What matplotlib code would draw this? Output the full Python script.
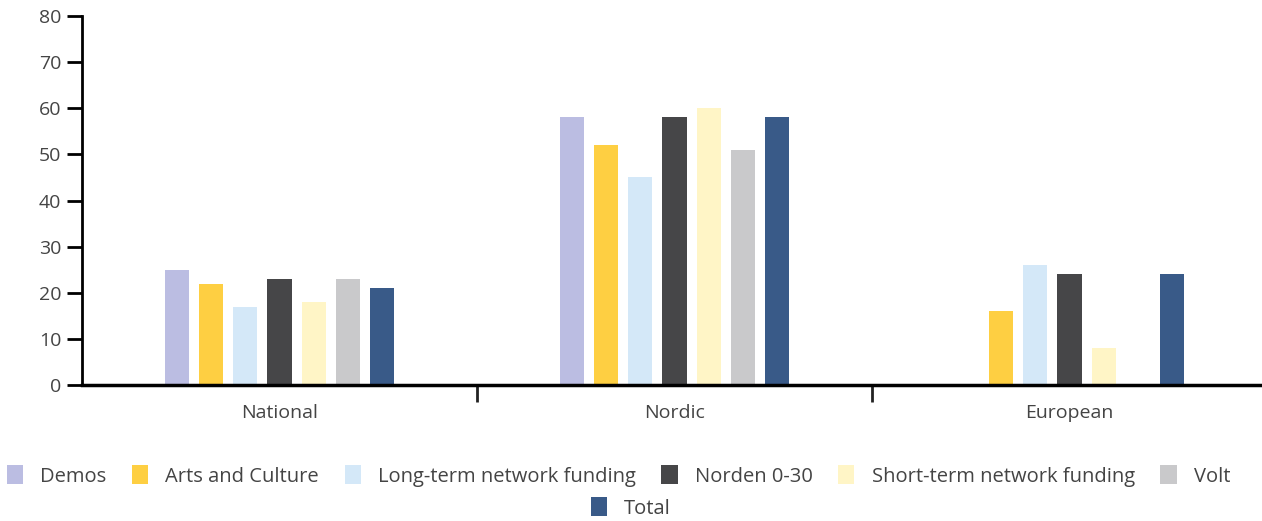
import numpy as np
import matplotlib
matplotlib.use("Agg")
import matplotlib.pyplot as plt
from matplotlib.patches import Patch

plt.rcParams['font.family'] = ['Open Sans', 'DejaVu Sans']

regions = ['National', 'Nordic', 'European']
programmes = ['Demos', 'Arts and Culture', 'Long-term network funding',
              'Norden 0-30', 'Short-term network funding', 'Volt', 'Total']
colors = ['#BBBDE2', '#FECF42', '#D4E8F8', '#464648', '#FFF5C6', '#C9C9CB', '#395A88']

demos = [25, 58, 0]
arts = [22, 52, 16]
longterm = [17, 45, 26]
norden = [23, 58, 24]
shortterm = [18, 60, 8]
volt = [23, 51, 0]
total = [21, 58, 24]
series = [demos, arts, longterm, norden, shortterm, volt, total]

txt = '#444444'

fig = plt.figure(figsize=(12.62, 5.21), dpi=100)
ax = fig.add_axes([82/1262, 1 - 385/521, 1 - 82/1262 + 0.004, (385 - 16)/521])

x = np.arange(len(regions))
step = 0.0865
width = 0.061
for i, (vals, c) in enumerate(zip(series, colors)):
    offs = (i - 3) * step
    vals = np.array(vals, dtype=float)
    mask = vals > 0
    ax.bar(x[mask] + offs, vals[mask], width=width, color=c, zorder=2)

ax.set_xlim(-0.5, 2.5)
ax.set_ylim(0, 80)
ax.set_yticks(range(0, 81, 10))
ax.tick_params(axis='y', length=11, width=2, colors='black', labelcolor=txt,
               labelsize=14, pad=4)

# boundaries between groups as ticks, labels on minor ticks at centres
ax.set_xticks([0.5, 1.5])
ax.set_xticklabels([])
ax.tick_params(axis='x', which='major', length=12, width=2, color='#222222', direction='out')
ax.set_xticks(x, minor=True)
ax.set_xticklabels(regions, minor=True)
ax.tick_params(axis='x', which='minor', length=0, labelsize=14, labelcolor=txt, pad=14)

for s in ['top', 'right']:
    ax.spines[s].set_visible(False)
ax.spines['left'].set_linewidth(2)
ax.spines['bottom'].set_linewidth(2.5)

handles = [Patch(facecolor=c, label=p) for p, c in zip(programmes, colors)]
leg_kw = dict(frameon=False, fontsize=14.5, handlelength=0.8, handleheight=1.05,
              handletextpad=0.85, columnspacing=1.28, labelcolor=txt)
fig.legend(handles=handles[:6], ncol=6, loc='center', bbox_to_anchor=(0.49, 1 - 476/521), **leg_kw)
fig.legend(handles=handles[6:], ncol=1, loc='center', bbox_to_anchor=(0.5, 1 - 508/521), **leg_kw)

fig.savefig('out.png', dpi=100)
